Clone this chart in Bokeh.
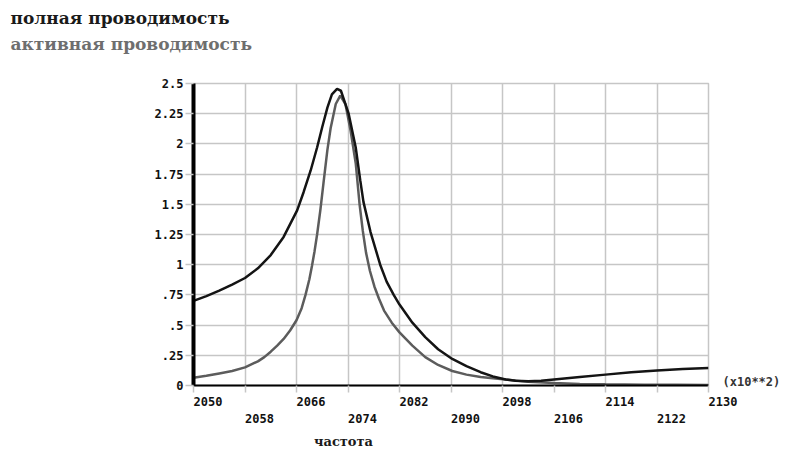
from bokeh.plotting import figure
from bokeh.models import LinearAxis, FixedTicker, Range1d, Title
from bokeh.embed import file_html
from bokeh.resources import INLINE

# ---- data (frequency in units of 10**2) ----
freq_total = [2050, 2052, 2054, 2056, 2058, 2060, 2062, 2064, 2066.1, 2067.1, 2068.2,
              2069.2, 2070, 2070.8, 2071.5, 2072.3, 2072.9, 2074.1, 2075.2, 2075.9,
              2076.4, 2077.5, 2079, 2080, 2081.1, 2082, 2084, 2086, 2088, 2090.2,
              2092.4, 2094.6, 2096.5, 2098.5, 2100, 2102, 2104, 2106, 2110, 2114,
              2118, 2122, 2126, 2130]
total = [0.70, 0.74, 0.785, 0.835, 0.89, 0.97, 1.08, 1.23, 1.45, 1.60, 1.78,
         1.97, 2.14, 2.30, 2.41, 2.455, 2.44, 2.25, 1.97, 1.70,
         1.52, 1.27, 1.00, 0.86, 0.75, 0.67, 0.52, 0.40, 0.30, 0.22,
         0.16, 0.11, 0.075, 0.05, 0.04, 0.035, 0.04, 0.05, 0.07, 0.09,
         0.11, 0.125, 0.137, 0.145]

freq_active = [2050, 2052, 2054, 2056, 2058, 2060, 2061, 2062, 2063, 2064, 2065, 2066,
               2066.8, 2067.4, 2068, 2068.4, 2068.8, 2069.2, 2069.7, 2070.2, 2070.8,
               2071.3, 2072.1, 2072.8, 2073.6, 2074.4, 2075.2, 2075.8, 2076.3, 2076.8,
               2077.4, 2078.1, 2078.8, 2079.6, 2080.8, 2082, 2084, 2086, 2088, 2090.2,
               2092.4, 2094.6, 2096.5, 2098.5, 2102, 2106, 2110, 2114, 2120, 2125, 2130]
active = [0.065, 0.08, 0.10, 0.12, 0.15, 0.20, 0.235, 0.28, 0.33, 0.385, 0.455, 0.54,
          0.64, 0.75, 0.88, 0.99, 1.11, 1.25, 1.45, 1.68, 1.95,
          2.13, 2.33, 2.40, 2.33, 2.11, 1.84, 1.50, 1.28, 1.10,
          0.95, 0.82, 0.72, 0.62, 0.52, 0.44, 0.33, 0.235, 0.17, 0.12,
          0.09, 0.07, 0.06, 0.05, 0.03, 0.02, 0.013, 0.01, 0.007, 0.006, 0.005]

x_ticks_row1 = [2050, 2066, 2082, 2098, 2114, 2130]
x_ticks_row2 = [2058, 2074, 2090, 2106, 2122]
y_ticks = [0, 0.25, 0.5, 0.75, 1, 1.25, 1.5, 1.75, 2, 2.25, 2.5]
y_tick_labels = ["0", ".25", ".5", ".75", "1", "1.25", "1.5", "1.75", "2", "2.25", "2.5"]

title_total = "полная проводимость"
title_active = "активная проводимость"
x_title = "частота"
x_title_at = 2073.3
x_scale_note = "(x10**2)"
x_scale_note_at = 0.03

GRID = "#c6c6c6"
MONO = "DejaVu Sans Mono"
SERIF = "DejaVu Serif"
NB = "\u00a0"

p = figure(width=795, height=456, x_range=Range1d(2050, 2130), y_range=Range1d(0, 2.5),
           output_backend="svg", toolbar_location=None,
           min_border_left=193, min_border_right=87, min_border_top=83, min_border_bottom=71)
p.background_fill_color = "white"
p.border_fill_color = "white"
p.outline_line_color = GRID
p.outline_line_width = 1.5

all_x = sorted(x_ticks_row1 + x_ticks_row2)

# grids
p.xgrid.ticker = FixedTicker(ticks=all_x)
p.ygrid.ticker = FixedTicker(ticks=y_ticks)
for g in (p.xgrid, p.ygrid):
    g.grid_line_color = GRID
    g.grid_line_width = 1.5


def style_labels(ax, size="12px", font=MONO, color="#111111"):
    ax.major_label_text_font = font
    ax.major_label_text_font_style = "bold"
    ax.major_label_text_font_size = size
    ax.major_label_text_color = color


def bare(ax):
    ax.axis_line_color = None
    ax.major_tick_line_color = None
    ax.minor_tick_line_color = None
    ax.major_tick_out = 0
    ax.major_tick_in = 0


# x axis row 1 (tick marks for all ticks)
xa = p.xaxis[0]
xa.ticker = FixedTicker(ticks=all_x)
xa.major_label_overrides = {t: ((NB * 4 + str(t)) if t in x_ticks_row1 else "") for t in all_x}
xa.axis_line_color = "black"
xa.axis_line_width = 2
xa.major_tick_out = 7
xa.major_tick_in = 0
xa.major_tick_line_color = GRID
xa.major_tick_line_width = 1.5
xa.minor_tick_line_color = None
xa.major_label_standoff = 2
style_labels(xa)

# x axis row 2
xa2 = LinearAxis(ticker=FixedTicker(ticks=x_ticks_row2),
                 major_label_overrides={t: NB * 4 + str(t) for t in x_ticks_row2})
bare(xa2)
xa2.major_label_standoff = 0
style_labels(xa2)
p.add_layout(xa2, "below")

# x axis title ("частота") as a third label row
xa3 = LinearAxis(ticker=FixedTicker(ticks=[x_title_at]),
                 major_label_overrides={x_title_at: x_title})
bare(xa3)
xa3.major_label_standoff = 5
style_labels(xa3, size="13px", font=SERIF, color="#1a1a1a")
p.add_layout(xa3, "below")

# y axis
ya = p.yaxis[0]
ya.ticker = FixedTicker(ticks=y_ticks)
ya.major_label_overrides = {t: l for t, l in zip(y_ticks, y_tick_labels)}
ya.axis_line_color = "black"
ya.axis_line_width = 4
ya.major_tick_out = 8
ya.major_tick_in = 0
ya.major_tick_line_color = GRID
ya.major_tick_line_width = 1.5
ya.minor_tick_line_color = None
ya.major_label_standoff = 2
style_labels(ya)

# right: scale note
ra = LinearAxis(ticker=FixedTicker(ticks=[x_scale_note_at]),
                major_label_overrides={x_scale_note_at: x_scale_note})
bare(ra)
ra.major_label_standoff = 14
style_labels(ra, size="12px", color="#333333")
p.add_layout(ra, "right")

# curves
p.line(freq_active, active, line_color="#5c5c5c", line_width=2.5)
p.line(freq_total, total, line_color="#141414", line_width=2.5)

# titles (a blank spacer keeps them up at the top of the page)
p.add_layout(Title(text=NB, standoff=15, text_font_size="10px"), "above")
p.add_layout(Title(text=title_active, align="left", offset=-183, standoff=4, text_font=SERIF,
                   text_font_style="bold", text_font_size="17px", text_color="#6e6e6e"), "above")
p.add_layout(Title(text=title_total, align="left", offset=-183, standoff=3, text_font=SERIF,
                   text_font_style="bold", text_font_size="17px", text_color="#1a1a1a"), "above")

open("out.html", "w").write(file_html(p, INLINE))
